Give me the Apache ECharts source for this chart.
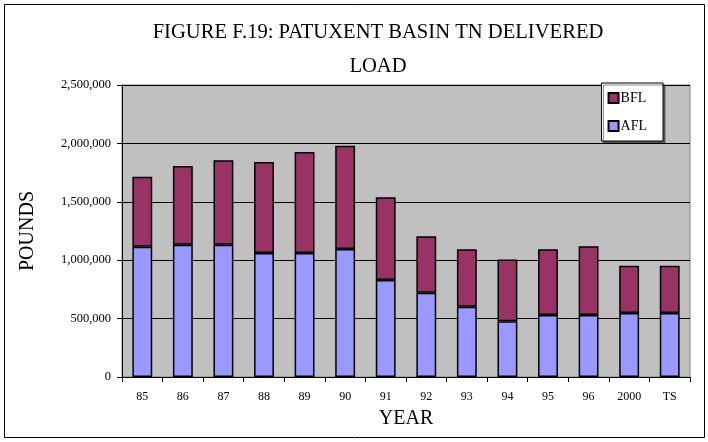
<!DOCTYPE html>
<html><head><meta charset="utf-8">
<script src="https://cdn.jsdelivr.net/npm/echarts@6/dist/echarts.min.js"></script>
<style>html,body{margin:0;padding:0;background:#fff}#c{width:708px;height:442px}</style>
</head><body><div id="c"></div>
<script>
const categories = ['85','86','87','88','89','90','91','92','93','94','95','96','2000','TS'];
const afl = [1115000,1133000,1133000,1062000,1062000,1096000,830000,722000,602000,477000,531000,531000,548000,548000];
const bfl = [600000,673000,722000,779000,864000,884000,708000,482000,491000,528000,562000,588000,405000,405000];
const yTicks = [0,500000,1000000,1500000,2000000,2500000];

const font = '"Liberation Serif", "Times New Roman", serif';
const chart = echarts.init(document.getElementById('c'));
chart.setOption({
  animation: false,
  backgroundColor: '#fff',
  title: {
    text: 'FIGURE F.19: PATUXENT BASIN TN DELIVERED\nLOAD',
    left: 373, top: 11, textAlign: 'center',
    textStyle: {fontFamily: font, fontWeight: 'normal', fontSize: 20.6, color: '#000', lineHeight: 34}
  },
  graphic: [{type: 'rect', shape: {x: 4.5, y: 4.5, width: 700, height: 433}, style: {fill: 'none', stroke: '#000', lineWidth: 1}, silent: true}],
  legend: {
    orient: 'vertical', right: 45, top: 83, itemWidth: 10, itemHeight: 10, itemGap: 14,
    padding: [8, 16, 8, 6],
    backgroundColor: '#fff', borderColor: '#000', borderWidth: 1,
    shadowColor: 'rgba(0,0,0,0.45)', shadowOffsetX: 2, shadowOffsetY: 2, shadowBlur: 0,
    data: ['BFL', 'AFL'],
    textStyle: {fontFamily: font, fontSize: 14, color: '#000', padding: [0, 0, 0, -3]},
    icon: 'rect'
  },
  grid: {left: 122, right: 18, top: 85, bottom: 65, show: true, backgroundColor: '#c0c0c0', borderColor: '#808080', borderWidth: 1},
  xAxis: {
    type: 'category', data: categories,
    name: 'YEAR', nameLocation: 'middle', nameGap: 32,
    nameTextStyle: {fontFamily: font, fontSize: 20, color: '#000'},
    axisLine: {lineStyle: {color: '#000'}},
    axisTick: {show: true, length: 5, lineStyle: {color: '#000'}},
    axisLabel: {fontFamily: font, fontSize: 12, color: '#000', margin: 14}
  },
  yAxis: {
    type: 'value', min: 0, max: 2500000, interval: 500000,
    name: 'POUNDS', nameLocation: 'middle', nameGap: 84, nameRotate: 90,
    nameTextStyle: {fontFamily: font, fontSize: 20, color: '#000'},
    axisLine: {show: true, lineStyle: {color: '#000'}},
    axisTick: {show: true, length: 5, lineStyle: {color: '#000'}},
    splitLine: {lineStyle: {color: '#000', width: 1}},
    axisLabel: {fontFamily: font, fontSize: 12.5, color: '#000', margin: 11,
      formatter: v => yTicks.includes(v) ? v.toLocaleString('en-US') : ''}
  },
  series: [
    {name: 'AFL', type: 'bar', stack: 't', data: afl, barWidth: '49%',
     itemStyle: {color: '#9999ff', borderColor: '#000', borderWidth: 1.5}},
    {name: 'BFL', type: 'bar', stack: 't', data: bfl, barWidth: '49%',
     itemStyle: {color: '#993366', borderColor: '#000', borderWidth: 1.5}}
  ]
});
</script></body></html>
